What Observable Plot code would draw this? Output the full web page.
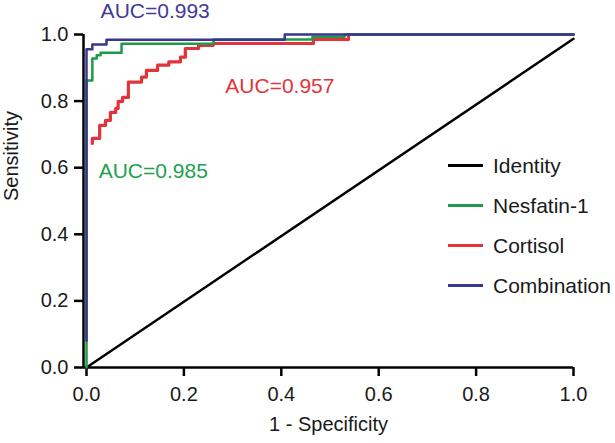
<!DOCTYPE html>
<html>
<head>
<meta charset="utf-8">
<script src="https://cdn.jsdelivr.net/npm/d3@7"></script>
<script src="https://cdn.jsdelivr.net/npm/@observablehq/plot@0.6"></script>
<style>
  html, body { margin: 0; padding: 0; background: #fff; }
  #wrap { position: relative; width: 615px; height: 443px; font-family: "Liberation Sans", Arial, Helvetica, sans-serif; }
  #legend { position: absolute; left: 448px; top: 145px; }
  .row { display: flex; align-items: center; height: 40px; }
  .sw { width: 35px; height: 3px; margin-right: 10px; }
  .lab { font-size: 21px; color: #1a1a1a; line-height: 1; }
</style>
</head>
<body>
<div id="wrap"><div id="legend"></div></div>
<script>
// ---- data ----
const tickValues = [0, 0.2, 0.4, 0.6, 0.8, 1.0];

// step-before vertices: (1 - specificity, sensitivity)
const combinationFpr  = [0, 0.012, 0.041, 0.407, 1];
const combinationSens = [0.08, 0.956, 0.970, 0.984, 1];

const nesfatinFpr  = [0, 0.012, 0.021, 0.029, 0.072, 0.261, 0.464, 0.530, 1];
const nesfatinSens = [0, 0.862, 0.928, 0.938, 0.945, 0.972, 0.985, 0.993, 1];

const cortisolFpr  = [0.012, 0.027, 0.039, 0.049, 0.060, 0.065, 0.074, 0.086, 0.113, 0.123, 0.146, 0.169, 0.193, 0.203, 0.230, 0.260, 0.466, 0.538, 1];
const cortisolSens = [0.673, 0.688, 0.727, 0.742, 0.766, 0.778, 0.799, 0.811, 0.857, 0.872, 0.892, 0.908, 0.918, 0.932, 0.958, 0.967, 0.973, 0.985, 1];

const identityFpr  = [0, 1];
const identitySens = [0, 0.987];

const legendNames = ["Identity", "Nesfatin-1", "Cortisol", "Combination"];
const aucLabels = ["AUC=0.993", "AUC=0.957", "AUC=0.985"];

// ---- styles ----
const colors = {Identity: "#000000", "Nesfatin-1": "#1e9a48", Cortisol: "#e2343a", Combination: "#3a3590"};
const toPts = (xs, ys) => xs.map((x, i) => ({x, y: ys[i]}));
const fmt = d3.format(".1f");
const font = "'Liberation Sans', Arial, Helvetica, sans-serif";

const chart = Plot.plot({
  width: 615,
  height: 443,
  marginLeft: 83,
  marginRight: 42,
  marginTop: 34,
  marginBottom: 76,
  x: {domain: [0, 1], range: [86, 573]},
  y: {domain: [0, 1]},
  style: {fontFamily: font, fontSize: "20px", color: "#1a1a1a", background: "#fff", overflow: "visible"},
  marks: [
    Plot.axisY({ticks: tickValues, tickFormat: fmt, tickSize: 9, tickPadding: 6, fontSize: 20, label: null, strokeWidth: 2.5, stroke: "#000"}),
    Plot.axisX({ticks: tickValues, tickFormat: fmt, tickSize: 9, tickPadding: 10, fontSize: 20, label: null, strokeWidth: 2.5, stroke: "#000"}),
    Plot.ruleY([0], {stroke: "#000", strokeWidth: 2.5}),
    Plot.ruleX([0], {stroke: "#000", strokeWidth: 2.5, dx: -3}),
    Plot.line(toPts(identityFpr, identitySens), {x: "x", y: "y", stroke: colors.Identity, strokeWidth: 2.5}),
    Plot.line(toPts(cortisolFpr, cortisolSens), {x: "x", y: "y", curve: "step-before", stroke: colors.Cortisol, strokeWidth: 3.2}),
    Plot.line(toPts(nesfatinFpr, nesfatinSens), {x: "x", y: "y", curve: "step-before", stroke: colors["Nesfatin-1"], strokeWidth: 2.5}),
    Plot.line(toPts(combinationFpr, combinationSens), {x: "x", y: "y", curve: "step-before", stroke: colors.Combination, strokeWidth: 2.5}),
    Plot.text([aucLabels[0]], {x: 0.029, y: 1.071, text: d => d, textAnchor: "start", fill: "#3f3a96", fontSize: 21}),
    Plot.text([aucLabels[1]], {x: 0.285, y: 0.846, text: d => d, textAnchor: "start", fill: "#e2343a", fontSize: 21}),
    Plot.text([aucLabels[2]], {x: 0.025, y: 0.588, text: d => d, textAnchor: "start", fill: "#22a04e", fontSize: 21}),
    Plot.text(["1 - Specificity"], {text: d => d, frameAnchor: "bottom", dy: 63, fontSize: 20, fill: "#1a1a1a"}),
    Plot.text(["Sensitivity"], {text: d => d, frameAnchor: "left", dx: -72, rotate: -90, fontSize: 20, fill: "#1a1a1a"})
  ]
});

const wrap = document.getElementById("wrap");
wrap.insertBefore(chart, wrap.firstChild);

const legend = document.getElementById("legend");
for (const name of legendNames) {
  const row = document.createElement("div");
  row.className = "row";
  const sw = document.createElement("div");
  sw.className = "sw";
  sw.style.background = colors[name];
  const lab = document.createElement("span");
  lab.className = "lab";
  lab.textContent = name;
  row.appendChild(sw);
  row.appendChild(lab);
  legend.appendChild(row);
}
</script>
</body>
</html>
